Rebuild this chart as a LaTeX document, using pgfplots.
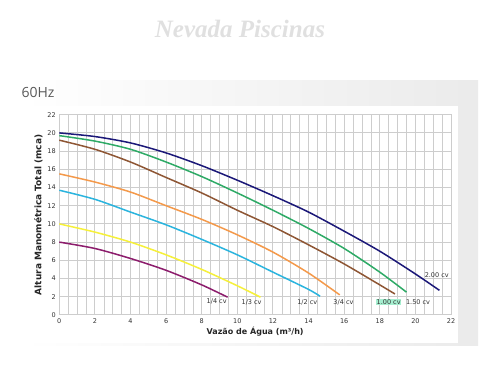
\documentclass[border=0pt]{standalone}
\usepackage{pgfplots}
\pgfplotsset{compat=1.18}
\usepackage{fontspec}
\setmainfont{DejaVu Sans}
\newfontfamily\hzfont{Open Sans}
\newfontfamily\wmfont{Liberation Serif}
\definecolor{cnavy}{HTML}{1B1878}
\definecolor{cgreen}{HTML}{2EAA66}
\definecolor{cbrown}{HTML}{8E5634}
\definecolor{corange}{HTML}{F4994A}
\definecolor{ccyan}{HTML}{2AB4DE}
\definecolor{cyellow}{HTML}{F6F03A}
\definecolor{cpurple}{HTML}{8C1C6C}
\definecolor{gridc}{HTML}{CDCDCD}
\definecolor{hl}{HTML}{A6EFD0}
\begin{document}
\begin{tikzpicture}[x=1pt,y=1pt]
\path (0,0) rectangle (500,368);
\shade[left color=white,right color=black!8] (22,23) rectangle (478,288);
\fill[white] (22,25) rectangle (458,262);
\node[font=\wmfont\bfseries\itshape\fontsize{25}{27}\selectfont,text=black!12] at (240,339) {Nevada Piscinas};
\node[font=\hzfont\fontsize{14}{16}\selectfont,text=black!65,anchor=west] at (18,276) {60Hz};
\begin{axis}[
  scale only axis, width=391.7pt, height=200.2pt,
  at={(59.3pt,53.1pt)}, anchor=origin,
  xmin=0,xmax=22,ymin=0,ymax=22,
  xtick={0,2,...,22}, ytick={0,2,...,22},
  minor x tick num=3,
  grid=both,
  major grid style={gridc,line width=1pt},
  minor grid style={gridc,line width=0.6pt},
  axis line style={gridc,line width=1pt},
  major tick length=0pt, minor tick length=0pt,
  tick label style={font=\fontsize{6.5}{7}\selectfont,text=black!80},
  /pgf/number format/assume math mode=true,
  xlabel={\bfseries Vazão de Água (m³/h)},
  ylabel={\bfseries Altura Manométrica Total (mca)},
  xlabel style={font=\fontsize{8}{9}\selectfont,text=black!85,yshift=3pt},
  ylabel style={font=\fontsize{9}{10}\selectfont,text=black!85,yshift=-2pt},
  every axis plot/.append style={line width=1.5pt, smooth, tension=0.45, no markers},
  clip=false,
]
\addplot[cnavy] coordinates {(0,20)(2,19.6)(4,18.9)(6,17.8)(8,16.4)(10,14.8)(12,13.1)(14,11.3)(16,9.2)(18,7.0)(20,4.5)(21.35,2.7)};
\addplot[cgreen] coordinates {(0,19.7)(2,19.1)(4,18.2)(6,16.8)(8,15.2)(10,13.4)(12,11.5)(14,9.5)(16,7.3)(18,4.7)(19.5,2.5)};
\addplot[cbrown] coordinates {(0,19.2)(2,18.2)(4,16.8)(6,15.1)(8,13.4)(10,11.5)(12,9.7)(14,7.7)(16,5.6)(18,3.3)(18.85,2.3)};
\addplot[corange] coordinates {(0,15.5)(2,14.6)(4,13.5)(6,12.0)(8,10.5)(10,8.8)(12,6.9)(14,4.6)(15.75,2.2)};
\addplot[ccyan] coordinates {(0,13.7)(2,12.7)(4,11.3)(6,9.9)(8,8.3)(10,6.6)(12,4.7)(14,2.8)(14.65,2.05)};
\addplot[cyellow] coordinates {(0,10)(2,9.1)(4,8.0)(6,6.6)(8,5.0)(10,3.2)(11.3,1.95)};
\addplot[cpurple] coordinates {(0,8)(2,7.3)(4,6.2)(6,4.9)(8,3.3)(9.45,1.95)};
\begin{scope}[every node/.style={font=\fontsize{6.5}{7.5}\selectfont,text=black!80,inner sep=0.8pt}]
\node at (axis cs:8.84,1.5) {1/4 cv};
\node at (axis cs:10.8,1.4) {1/3 cv};
\node at (axis cs:13.93,1.4) {1/2 cv};
\node at (axis cs:15.96,1.4) {3/4 cv};
\node[fill=hl] at (axis cs:18.5,1.4) {1.00 cv};
\node at (axis cs:20.15,1.4) {1.50 cv};
\node at (axis cs:21.2,4.4) {2.00 cv};
\end{scope}
\end{axis}
\end{tikzpicture}
\end{document}
